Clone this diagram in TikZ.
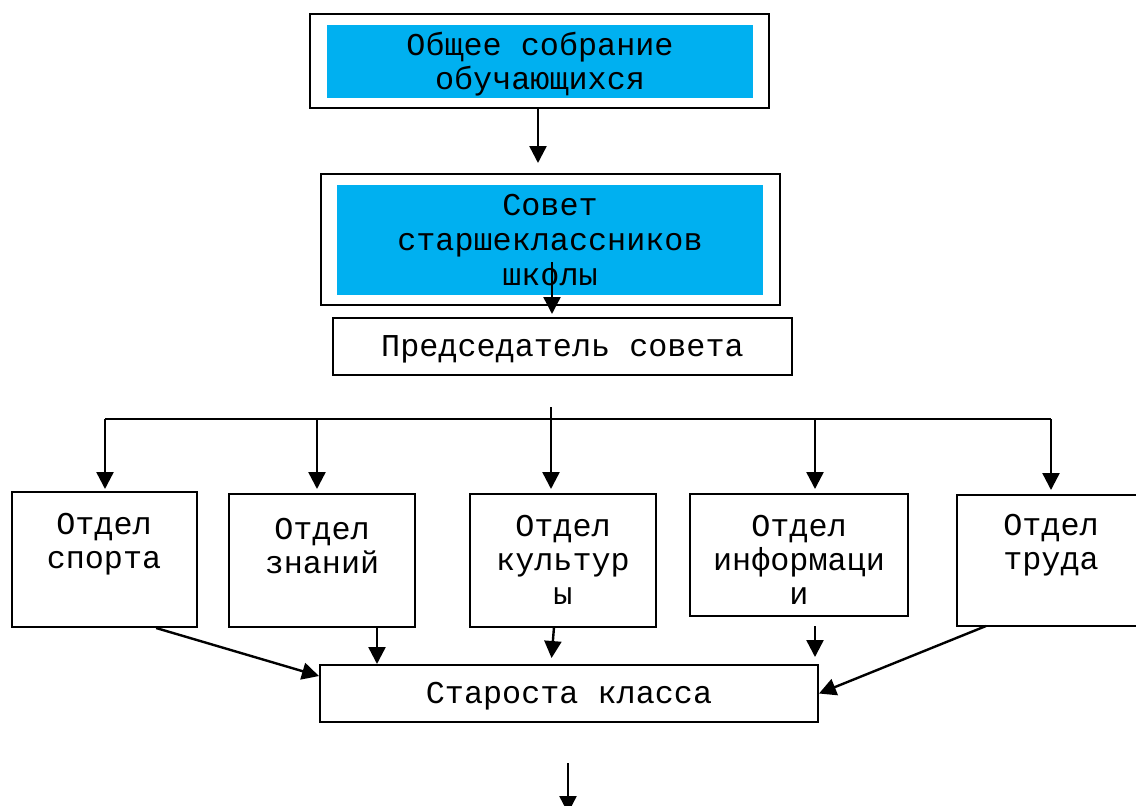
\documentclass[tikz,border=0pt]{standalone}
\usepackage{fontspec}
\setmainfont{Liberation Mono}
\usetikzlibrary{arrows.meta}

\definecolor{bleuword}{HTML}{00B0F0}

\tikzset{
  cadre/.style={draw, line width=1pt, inner sep=0pt},
  bleu/.style={fill=bleuword, inner sep=0pt, align=center},
  texte/.style={align=center, inner sep=0pt},
  fleche/.style={line width=1.2pt, -{Triangle[length=8.5pt,width=8.5pt]}}
}

\begin{document}
\begin{tikzpicture}[x=0.5pt, y=-0.5pt, font=\fontsize{15.9}{17}\selectfont]

      % cadre de la page
      \clip (0, 0) rectangle (1136, 805);

      % assemblee generale
      \node[cadre, minimum width=229.5pt, minimum height=47pt] (gen) at (539.5, 61) {};
      \node[bleu, minimum width=213pt, minimum height=36.5pt] (genin) at (540, 61.5) {};
      \node[texte] (tgen) at (540, 64) {Общее собрание\\обучающихся};

      % conseil des lyceens
      \node[cadre, minimum width=229.5pt, minimum height=65.5pt] (sov) at (550.5, 239.5) {};
      \node[bleu, minimum width=213pt, minimum height=55pt] (sovin) at (550, 240) {};
      \node[texte, font=\fontsize{15.9}{17.5}\selectfont] (tsov) at (550, 240) {Совет\\старшеклассников\\школы};

      % president
      \node[cadre, minimum width=229.5pt, minimum height=28.5pt, text depth=0pt] (pred) at (562.5, 346.5) {Председатель совета};

      % departements
      \node[cadre, minimum width=92.5pt, minimum height=67.5pt] (sport) at (104.5, 559.5) {};
      \node[cadre, minimum width=93pt, minimum height=66.5pt] (znan) at (322, 560.5) {};
      \node[cadre, minimum width=93pt, minimum height=66.5pt] (kult) at (563, 560.5) {};
      \node[cadre, minimum width=109pt, minimum height=61pt] (info) at (799, 555) {};
      \node[cadre, minimum width=94pt, minimum height=65.5pt] (trud) at (1051, 560.5) {};
      \node[texte] (tsport) at (104, 544) {Отдел\\спорта};
      \node[texte] (tznan) at (322, 546.5) {Отдел\\знаний};
      \node[texte] (tkult) at (563, 560) {Отдел\\культур\\ы};
      \node[texte] (tinfo) at (799, 560) {Отдел\\информаци\\и};
      \node[texte] (ttrud) at (1051, 545.5) {Отдел\\труда};

      % chef de classe
      \node[cadre, minimum width=249pt, minimum height=28.5pt, text depth=1pt] (starosta) at (569, 693.5) {Староста класса};

      % points de depart des fleches
      \coordinate (gendown) at (538, 108);
      \coordinate (sovdown) at (552, 262);
      \coordinate (bus) at (551, 407);
      \coordinate (busl) at (105, 419);
      \coordinate (busz) at (317, 419);
      \coordinate (busi) at (815, 419);
      \coordinate (busr) at (1051, 419);
      \coordinate (znanout) at (377, 627);
      \coordinate (kultout) at (554, 627);
      \coordinate (kultin) at (551, 665);
      \coordinate (infoout) at (815, 626);
      \coordinate (trudout) at (986, 626);
      \coordinate (stdown) at (568, 763);

      % fleches du haut
      \draw[fleche, shorten >=5pt] (gendown) -- (gendown |- sov.north);
      \draw[fleche, shorten >=1.5pt] (sovdown) -- (sovdown |- pred.north);

      % distribution vers les departements
      \draw[line width=1.2pt] (busl) -- (busr);
      \draw[fleche, shorten >=2pt] (bus) -- (bus |- kult.north);
      \draw[fleche, shorten >=1pt] (busl) -- (busl |- sport.north);
      \draw[fleche, shorten >=2pt] (busz) -- (busz |- znan.north);
      \draw[fleche, shorten >=2pt] (busi) -- (busi |- info.north);
      \draw[fleche, shorten >=2pt] (busr) -- (busr |- trud.north);

      % vers le chef de classe
      \draw[fleche] (sport.-53) -- (starosta.176);
      \draw[fleche] (znanout) -- (znanout |- starosta.north);
      \draw[fleche, shorten >=3.5pt] (kultout) -- (kultin);
      \draw[fleche, shorten >=3.5pt] (infoout) -- (infoout |- starosta.north);
      \draw[fleche] (trudout) -- (starosta.east);
      \draw[fleche] (stdown) -- ++(0, 50);
    \end{tikzpicture}
\end{document}
